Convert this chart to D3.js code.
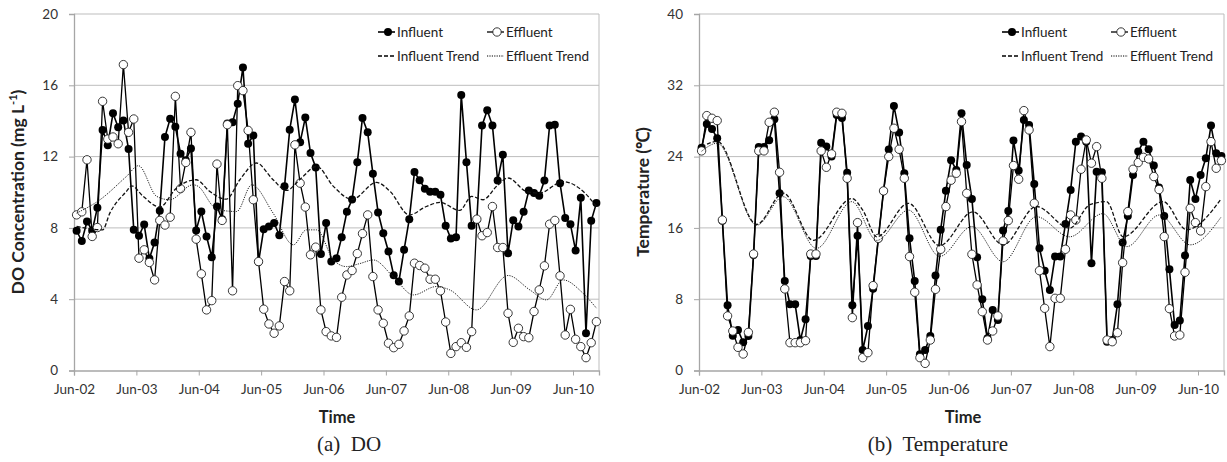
<!DOCTYPE html>
<html>
<head>
<meta charset="utf-8">
<script src="https://cdn.jsdelivr.net/npm/d3@7"></script>
<style>
  body { margin: 0; background: #fff; }
  svg text { font-family: Lato, "Open Sans", sans-serif; fill: #222; }
  .tick text { font-size: 13.5px; fill: #333; }
  .caption { font-family: "Liberation Serif", "DejaVu Serif", serif !important; font-size: 21px; }
  .legend text { font-size: 13.5px; }
</style>
</head>
<body>
<svg id="chart" width="1227" height="462"></svg>
<script>
// monthly samples, Jun-02 .. Oct-10
const yearTicks = ["Jun-02", "Jun-03", "Jun-04", "Jun-05", "Jun-06", "Jun-07", "Jun-08", "Jun-09", "Jun-10"];
const legendNames = ["Influent", "Effluent", "Influent Trend", "Effluent Trend"];

const doInfluent = [7.84, 7.26, 8.36, 7.84, 9.13, 13.49, 12.64, 14.43, 13.64, 14.03, 12.42, 7.89,
  7.56, 8.19, 6.28, 7.18, 8.96, 13.1, 14.13, 13.68, 12.16, 11.8, 12.45, 7.86,
  8.92, 7.52, 6.36, 9.2, 8.49, 13.85, 13.93, 14.97, 17.0, 12.72, 13.19, 6.08,
  7.93, 8.08, 8.27, 7.59, 10.33, 13.51, 15.2, 12.8, 14.19, 12.2, 11.39, 6.53,
  8.27, 6.11, 6.3, 7.48, 8.9, 9.6, 11.68, 14.17, 13.36, 11.04, 8.87, 7.7,
  6.68, 5.35, 4.99, 6.77, 8.49, 11.13, 10.68, 10.2, 10.03, 10.03, 9.86, 8.12,
  7.4, 7.48, 15.46, 11.69, 8.12, 8.46, 13.75, 14.6, 13.74, 10.66, 12.1, 6.58,
  8.43, 8.08, 8.9, 10.1, 9.96, 9.8, 10.66, 13.75, 13.79, 10.51, 8.56, 8.21,
  6.73, 9.69, 2.09, 8.4, 9.39];
const doEffluent = [8.73, 8.9, 11.82, 7.52, 8.02, 15.1, 12.98, 13.1, 12.72, 17.16, 13.36, 14.11,
  6.3, 6.77, 6.06, 5.08, 8.42, 8.16, 8.6, 15.38, 10.2, 11.67, 13.36, 7.37,
  5.42, 3.4, 3.92, 11.58, 8.42, 13.79, 4.47, 15.98, 15.7, 13.47, 9.58, 6.11,
  3.44, 2.61, 2.09, 2.5, 4.99, 4.47, 12.66, 10.51, 9.17, 6.49, 6.92, 3.4,
  2.18, 1.94, 1.86, 4.11, 5.36, 5.61, 6.56, 7.68, 8.73, 5.27, 3.4, 2.65,
  1.53, 1.28, 1.47, 2.22, 3.06, 6.02, 5.89, 5.74, 5.12, 5.12, 4.47, 2.72,
  0.96, 1.34, 1.56, 1.3, 2.18, 8.49, 7.56, 7.74, 9.2, 6.9, 6.9, 3.21,
  1.58, 2.37, 1.9, 1.84, 3.31, 4.52, 5.87, 8.21, 8.42, 5.31, 1.99, 3.43,
  1.75, 1.34, 0.72, 1.56, 2.74];

const doInTrendMonth = [0, 5, 6.4, 9.6, 10.6, 12.8, 16, 19.2, 23, 25.6, 28.8, 31.4, 34.6, 37.8, 40.4, 42.9, 46.2, 49.4,
  53, 57.7, 60.3, 64, 67.3, 69.9, 73.7, 76, 78.2, 80.8, 83, 86.5, 89, 93.6, 97.8, 100];
const doInTrend = [8.08, 7.89, 8.83, 10.05, 10.36, 9.77, 9.17, 10.23, 10.7, 10.05, 9.61, 10.7, 11.64, 10.7, 10.1, 10.7, 11.45, 10.33,
  9.6, 10.55, 10.05, 8.73, 9.2, 9.43, 8.98, 9.77, 9.58, 10.33, 10.8, 10.05, 9.95, 10.6, 9.95, 9.2];
const doEfTrendMonth = [0, 4.5, 9.6, 11.9, 15.4, 17.9, 22.4, 23.4, 26.3, 27.2, 30.8, 33.7, 37.8, 41.7, 44.2, 46.2,
  49.4, 51.9, 54.5, 57.1, 60.9, 64.8, 69.2, 71.8, 76.9, 83, 87.2, 90.4, 93.6, 97.4, 100];
const doEfTrend = [8.83, 9.58, 10.89, 11.49, 9.77, 9.58, 10.42, 10.33, 9.2, 9.02, 8.92, 10.42, 8.83, 7.05, 7.89, 7.89,
  6.21, 5.83, 6.0, 6.2, 5.27, 4.24, 4.71, 4.52, 3.4, 5.33, 4.52, 3.96, 5.08, 4.34, 3.5];

const tempInfluent = [25.0, 27.67, 27.1, 26.06, 16.8, 7.31, 3.9, 4.55, 3.16, 3.87, 12.96, 25.08,
  25.08, 25.83, 28.19, 19.88, 10.04, 7.43, 7.43, 3.42, 5.74, 12.85, 12.85, 25.55,
  25.12, 24.0, 28.68, 28.34, 22.2, 7.31, 15.13, 2.3, 4.99, 9.18, 14.8, 20.15,
  24.8, 29.69, 26.7, 22.13, 14.83, 10.04, 1.81, 2.3, 3.87, 10.66, 15.8, 20.17,
  23.6, 22.5, 28.86, 23.07, 19.25, 12.7, 7.99, 3.61, 6.79, 5.67, 15.7, 17.9,
  25.8, 22.43, 28.11, 27.55, 20.93, 13.71, 11.2, 9.03, 12.78, 12.78, 16.44, 20.26,
  25.68, 26.25, 25.68, 12.03, 22.31, 22.24, 3.23, 3.42, 7.43, 14.35, 17.34, 21.94,
  24.56, 25.68, 24.82, 22.99, 20.52, 17.34, 11.35, 5.11, 5.6, 12.89, 21.38, 19.25,
  21.94, 23.81, 27.48, 24.37, 24.07];
const tempEffluent = [24.64, 28.6, 28.3, 28.04, 16.89, 6.12, 4.43, 2.6, 1.85, 4.28, 13.07, 24.64,
  24.64, 27.85, 28.98, 22.24, 9.15, 3.12, 3.12, 3.12, 3.35, 13.07, 13.07, 24.64,
  22.8, 24.3, 28.98, 28.86, 21.57, 5.93, 16.59, 1.44, 2.0, 9.52, 14.83, 20.15,
  24.0, 27.18, 24.82, 21.57, 12.78, 8.78, 1.44, 0.8, 3.42, 9.11, 13.6, 18.39,
  21.35, 22.13, 27.93, 19.88, 13.04, 9.6, 6.6, 3.42, 4.43, 6.12, 14.53, 16.82,
  23.0, 21.46, 29.16, 26.99, 18.76, 11.2, 6.98, 2.68, 8.1, 8.1, 13.6, 17.45,
  16.89, 22.58, 25.87, 23.26, 25.12, 21.57, 3.42, 3.23, 4.24, 12.1, 17.83, 22.58,
  23.33, 23.92, 23.74, 21.76, 20.3, 15.02, 6.94, 3.87, 3.98, 11.02, 18.2, 16.59,
  15.66, 20.63, 25.68, 22.69, 23.55];

const tempInTrendMonth = [0, 3, 10.6, 15.7, 21.5, 28.9, 31, 33.7, 39.8, 45.8, 52.2, 58, 64.4, 70.8, 74.7, 77.9, 81.1, 88.8, 93.3, 100];
const tempInTrend = [25.1, 25.7, 16.4, 19.9, 14.6, 19.3, 18.0, 15.0, 18.76, 14.0, 17.8, 14.1, 18.4, 15.96, 18.6, 18.95, 15.0, 18.95, 15.8, 19.3];
const tempEfTrendMonth = [0, 3, 10.6, 15.7, 22.1, 28.9, 33.7, 39.8, 45.8, 52, 58, 64.4, 70.8, 77.2, 81.8, 88.1, 94, 100];
const tempEfTrend = [24.6, 25.5, 16.3, 19.5, 13.7, 18.95, 14.6, 18.0, 12.8, 16.15, 12.2, 17.26, 15.0, 17.6, 13.9, 17.45, 14.1, 17.26];

const svg = d3.select('#chart');

const drawPanel = (p) => {
    const x = d3.scaleLinear().domain([0, 101]).range([p.left, p.right]);
    const y = d3.scaleLinear().domain([0, p.yMax]).range([370.5, 14]);
    const g = svg.append('g');

    // gridlines + frame
    g.selectAll('.grid').data(p.yTicks.slice(1)).enter().append('line')
        .attr('x1', p.left).attr('x2', p.right)
        .attr('y1', d => y(d)).attr('y2', d => y(d))
        .attr('stroke', '#bdbdbd').attr('stroke-width', 1);
    g.append('line').attr('x1', p.right).attr('x2', p.right).attr('y1', y(p.yMax)).attr('y2', y(0))
        .attr('stroke', '#bdbdbd');

    const yAxis = d3.axisLeft(y).tickValues(p.yTicks).tickSize(5).tickPadding(11);
    const xAxis = d3.axisBottom(x).tickValues(yearTicks.map((d, i) => i * 12))
        .tickFormat((d, i) => yearTicks[i]).tickSize(5).tickPadding(9);

    g.append('g').attr('transform', `translate(${p.left},0)`).call(yAxis);
    g.append('g').attr('transform', `translate(0,${y(0)})`).call(xAxis);
    g.selectAll('.domain').attr('stroke', '#a6a6a6').attr('stroke-width', 1.3);
    g.selectAll('.tick line').attr('stroke', '#a6a6a6');

    const line = d3.line().x((d, i) => x(i + 0.5)).y(d => y(d));
    const trend = d3.line().x(d => x(d[0] + 0.5)).y(d => y(d[1])).curve(d3.curveMonotoneX);

    g.append('path').attr('d', line(p.inf)).attr('fill', 'none').attr('stroke', '#000').attr('stroke-width', 1.6);
    g.selectAll('.inf').data(p.inf).enter().append('circle')
        .attr('cx', (d, i) => x(i + 0.5)).attr('cy', d => y(d)).attr('r', 4).attr('fill', '#000');

    g.append('path').attr('d', line(p.eff)).attr('fill', 'none').attr('stroke', '#000').attr('stroke-width', 1.3);
    g.selectAll('.eff').data(p.eff).enter().append('circle')
        .attr('cx', (d, i) => x(i + 0.5)).attr('cy', d => y(d)).attr('r', 4.2)
        .attr('fill', '#fff').attr('stroke', '#222').attr('stroke-width', 0.9);

    g.append('path').attr('d', trend(d3.zip(p.inTrendMonth, p.inTrend))).attr('fill', 'none')
        .attr('stroke', '#111').attr('stroke-width', 1.3).attr('stroke-dasharray', '4,2');
    g.append('path').attr('d', trend(d3.zip(p.efTrendMonth, p.efTrend))).attr('fill', 'none')
        .attr('stroke', '#222').attr('stroke-width', 1).attr('stroke-dasharray', '1.2,1.2');

    // legend
    const lg = g.append('g').attr('class', 'legend');
    const lx = [p.legendX, p.legendX + 109];
    const ly = [32, 56];
    const items = [
        { name: legendNames[0], col: 0, row: 0 },
        { name: legendNames[1], col: 1, row: 0 },
        { name: legendNames[2], col: 0, row: 1 },
        { name: legendNames[3], col: 1, row: 1 }
    ];
    items.forEach((it, k) => {
        const x0 = lx[it.col], y0 = ly[it.row];
        const l = lg.append('line').attr('x1', x0).attr('x2', x0 + 17).attr('y1', y0).attr('y2', y0).attr('stroke', '#000');
        if (k === 0) {
            l.attr('stroke-width', 1.6);
            lg.append('circle').attr('cx', x0 + 10).attr('cy', y0).attr('r', 4).attr('fill', '#000');
        } else if (k === 1) {
            l.attr('stroke-width', 1.3);
            lg.append('circle').attr('cx', x0 + 10).attr('cy', y0).attr('r', 4.2)
                .attr('fill', '#fff').attr('stroke', '#222').attr('stroke-width', 0.9);
        } else if (k === 2) {
            l.attr('stroke-width', 1.3).attr('stroke-dasharray', '4,2');
        } else {
            l.attr('stroke-width', 1).attr('stroke-dasharray', '1.2,1.2');
        }
        lg.append('text').attr('x', x0 + 19).attr('y', y0 + 4.5).text(it.name);
    });

    // axis titles
    const yt = g.append('text')
        .attr('transform', `translate(${p.yTitleX},192) rotate(-90)`)
        .attr('text-anchor', 'middle')
        .style('font-size', '17.5px').style('font-weight', 'bold');
    p.yTitle(yt);

    g.append('text').attr('x', p.timeX).attr('y', 423).attr('text-anchor', 'middle')
        .style('font-size', '16.5px').style('font-weight', 'bold').text('Time');
    g.append('text').attr('class', 'caption').attr('x', p.captionX).attr('y', 451)
        .attr('text-anchor', 'middle').attr('xml:space', 'preserve').text(p.caption);
};

drawPanel({
    left: 74, right: 599, yMax: 20, yTicks: [0, 4, 8, 12, 16, 20],
    inf: doInfluent, eff: doEffluent,
    inTrendMonth: doInTrendMonth, inTrend: doInTrend,
    efTrendMonth: doEfTrendMonth, efTrend: doEfTrend,
    legendX: 378, yTitleX: 24, timeX: 337, captionX: 349, caption: '(a)  DO',
    yTitle: t => {
        t.append('tspan').text('DO Concentration (mg L');
        t.append('tspan').attr('dy', -7).style('font-size', '11px').text('-1');
        t.append('tspan').attr('dy', 7).text(')');
    }
});

drawPanel({
    left: 699, right: 1224, yMax: 40, yTicks: [0, 8, 16, 24, 32, 40],
    inf: tempInfluent, eff: tempEffluent,
    inTrendMonth: tempInTrendMonth, inTrend: tempInTrend,
    efTrendMonth: tempEfTrendMonth, efTrend: tempEfTrend,
    legendX: 1002, yTitleX: 649, timeX: 963, captionX: 938, caption: '(b)  Temperature',
    yTitle: t => t.text('Temperature (℃)')
});
</script>
</body>
</html>
